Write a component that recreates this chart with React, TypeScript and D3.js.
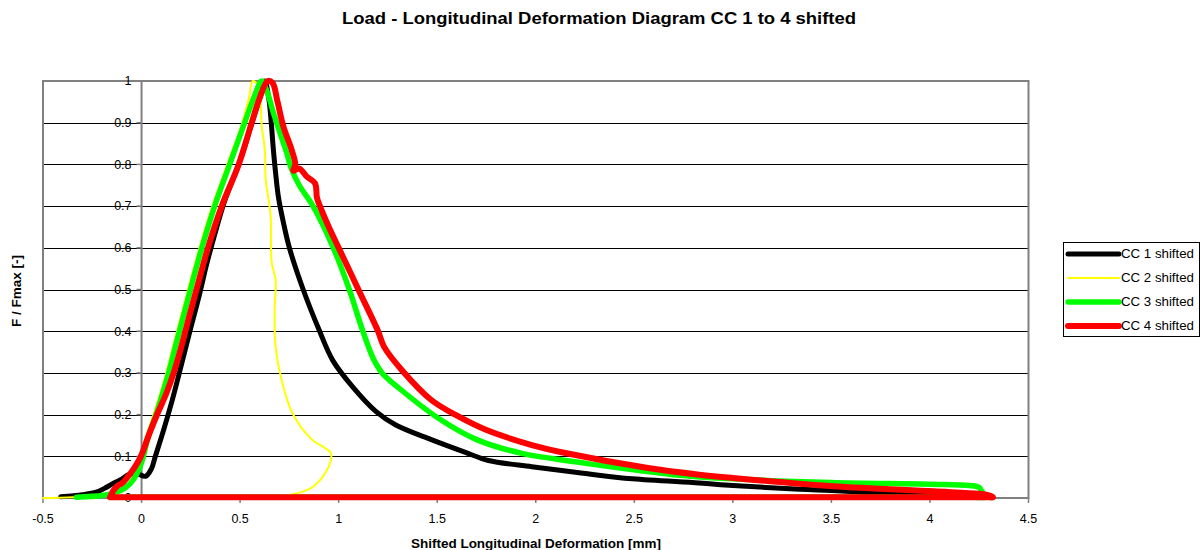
import { useMemo } from "react";
import { scaleLinear, line, curveCatmullRom } from "d3";

const WIDTH = 1202;
const HEIGHT = 550;
const PLOT = { left: 43, right: 1028.5, top: 81, bottom: 498 };
const FONT = "Arial, 'Liberation Sans', sans-serif";

const TITLE = "Load - Longitudinal Deformation Diagram CC 1 to 4 shifted";
const X_LABEL = "Shifted Longitudinal Deformation [mm]";
const Y_LABEL = "F / Fmax [-]";

const xTicks = [-0.5, 0, 0.5, 1, 1.5, 2, 2.5, 3, 3.5, 4, 4.5];
const yTicks = [0, 0.1, 0.2, 0.3, 0.4, 0.5, 0.6, 0.7, 0.8, 0.9, 1];

// [deformation mm, F/Fmax]; each loop ends with the unloading run back along zero
const cc1: [number, number][] = [
  [-0.41, 0.003], [-0.3, 0.008], [-0.23, 0.014], [-0.18, 0.025], [-0.14, 0.036], [-0.1, 0.045],
  [-0.07, 0.055], [-0.03, 0.06], [0.02, 0.052], [0.05, 0.07], [0.07, 0.1], [0.11, 0.16],
  [0.15, 0.225], [0.183, 0.284], [0.24, 0.39], [0.295, 0.49], [0.33, 0.56], [0.37, 0.63],
  [0.42, 0.71], [0.5, 0.81], [0.56, 0.9], [0.6, 0.96], [0.625, 1.0], [0.645, 0.96],
  [0.658, 0.9], [0.668, 0.84], [0.68, 0.78], [0.695, 0.72], [0.72, 0.66], [0.75, 0.6],
  [0.82, 0.5], [0.9, 0.404], [0.97, 0.33], [1.07, 0.267], [1.19, 0.207], [1.29, 0.175],
  [1.47, 0.14], [1.64, 0.11], [1.76, 0.09], [1.98, 0.075], [2.23, 0.06], [2.49, 0.046],
  [2.83, 0.036], [3.0, 0.03], [3.34, 0.021], [3.5, 0.018], [3.85, 0.01], [4.1, 0.006],
  [4.25, 0.003], [4.28, 0.002], [4.22, 0.002], [0.05, 0.002], [0.0, 0.002]
];

const cc2: [number, number][] = [
  [-0.5, 0.0], [-0.35, 0.002], [-0.21, 0.006], [-0.15, 0.012], [-0.09, 0.025], [-0.05, 0.045],
  [-0.012, 0.085], [0.018, 0.14], [0.068, 0.21], [0.116, 0.284], [0.158, 0.36], [0.208, 0.45],
  [0.253, 0.53], [0.294, 0.6], [0.359, 0.7], [0.435, 0.8], [0.511, 0.9], [0.545, 0.96],
  [0.565, 1.0], [0.59, 0.99], [0.6, 0.973], [0.61, 0.89], [0.625, 0.837], [0.63, 0.765],
  [0.655, 0.675], [0.66, 0.565], [0.68, 0.524], [0.675, 0.445], [0.68, 0.363], [0.71, 0.284],
  [0.765, 0.204], [0.865, 0.14], [0.93, 0.12], [0.96, 0.108], [0.95, 0.075], [0.87, 0.027],
  [0.75, 0.007], [0.61, 0.004], [0.58, 0.004]
];

const cc3: [number, number][] = [
  [-0.33, 0.002], [-0.2, 0.006], [-0.14, 0.012], [-0.08, 0.025], [-0.04, 0.045], [0.0, 0.085],
  [0.03, 0.14], [0.08, 0.21], [0.128, 0.284], [0.17, 0.36], [0.22, 0.45], [0.265, 0.53],
  [0.306, 0.6], [0.371, 0.7], [0.447, 0.8], [0.523, 0.9], [0.57, 0.96], [0.61, 1.0],
  [0.64, 0.97], [0.665, 0.93], [0.685, 0.9], [0.735, 0.83], [0.76, 0.79], [0.8, 0.75],
  [0.87, 0.7], [0.973, 0.6], [1.054, 0.5], [1.12, 0.404], [1.175, 0.335], [1.22, 0.3],
  [1.31, 0.262], [1.51, 0.19], [1.7, 0.14], [1.93, 0.107], [2.2, 0.087], [2.41, 0.073],
  [2.7, 0.056], [3.0, 0.046], [3.5, 0.037], [4.0, 0.033], [4.2, 0.03], [4.25, 0.025],
  [4.27, 0.01], [4.28, 0.002], [4.22, 0.002], [-0.05, 0.002], [-0.1, 0.002]
];

const cc4: [number, number][] = [
  [-0.16, 0.002], [-0.14, 0.02], [-0.12, 0.03], [-0.1, 0.035], [-0.075, 0.048], [-0.04, 0.07],
  [-0.005, 0.098], [0.04, 0.155], [0.083, 0.205], [0.125, 0.25], [0.163, 0.3], [0.2, 0.36],
  [0.25, 0.45], [0.296, 0.53], [0.337, 0.6], [0.407, 0.7], [0.493, 0.8], [0.559, 0.9],
  [0.6, 0.96], [0.64, 1.0], [0.665, 0.995], [0.69, 0.95], [0.72, 0.89], [0.76, 0.837],
  [0.78, 0.8], [0.77, 0.785], [0.8, 0.79], [0.84, 0.77], [0.88, 0.755], [0.89, 0.72],
  [0.905, 0.7], [0.95, 0.65], [1.0, 0.6], [1.1, 0.5], [1.2, 0.4], [1.23, 0.363],
  [1.32, 0.307], [1.47, 0.235], [1.61, 0.195], [1.75, 0.163], [1.98, 0.127], [2.15, 0.108],
  [2.57, 0.072], [2.83, 0.056], [3.0, 0.048], [3.51, 0.028], [4.02, 0.016], [4.25, 0.01],
  [4.3, 0.006], [4.32, 0.002], [4.26, 0.002], [-0.1, 0.002], [-0.15, 0.002]
];

const seriesNames = ["CC 1 shifted", "CC 2 shifted", "CC 3 shifted", "CC 4 shifted"];
const seriesColors = ["#000000", "#ffff00", "#00ff00", "#ff0000"];
const seriesWidths = [5, 2, 5.5, 6];
const seriesData = [cc1, cc2, cc3, cc4];

export default function App() {
  const x = useMemo(() => scaleLinear().domain([-0.5, 4.5]).range([PLOT.left, PLOT.right]), []);
  const y = useMemo(() => scaleLinear().domain([0, 1]).range([PLOT.bottom, PLOT.top]), []);
  const path = line<[number, number]>()
    .x((d) => x(d[0]))
    .y((d) => y(d[1]))
    .curve(curveCatmullRom.alpha(0.5));

  const legend = { left: 1063.5, top: 242.5, width: 136, height: 94 };

  return (
    <svg
      width={WIDTH}
      height={HEIGHT}
      style={{ position: "absolute", left: 0, top: 0, background: "#fff" }}
      fontFamily={FONT}
    >
      <text
        x={599}
        y={24}
        textAnchor="middle"
        fontSize={16}
        fontWeight="bold"
        textLength={514}
        lengthAdjust="spacingAndGlyphs"
      >
        {TITLE}
      </text>

      {yTicks.slice(1).map((t) => (
        <line
          key={t}
          x1={PLOT.left}
          x2={PLOT.right}
          y1={Math.round(y(t)) + 0.5}
          y2={Math.round(y(t)) + 0.5}
          stroke="#000"
          strokeWidth={1}
        />
      ))}

      <rect
        x={PLOT.left}
        y={PLOT.top}
        width={PLOT.right - PLOT.left}
        height={PLOT.bottom - PLOT.top}
        fill="none"
        stroke="#808080"
        strokeWidth={2}
      />

      {/* value axis crossing at x = 0 */}
      <line x1={x(0)} x2={x(0)} y1={PLOT.top} y2={PLOT.bottom} stroke="#808080" strokeWidth={2} />
      {yTicks.map((t) => (
        <g key={t}>
          <line x1={x(0) - 5} x2={x(0)} y1={y(t)} y2={y(t)} stroke="#808080" strokeWidth={1.5} />
          <text x={x(0) - 10} y={y(t)} dy="0.35em" textAnchor="end" fontSize={12.5}>
            {String(t)}
          </text>
        </g>
      ))}

      <line x1={PLOT.left} x2={PLOT.right} y1={PLOT.bottom} y2={PLOT.bottom} stroke="#808080" strokeWidth={2} />
      {xTicks.map((t) => (
        <g key={t}>
          <line x1={x(t)} x2={x(t)} y1={PLOT.bottom} y2={PLOT.bottom + 5} stroke="#808080" strokeWidth={1.5} />
          <text x={x(t)} y={523} textAnchor="middle" fontSize={12.5}>
            {String(t)}
          </text>
        </g>
      ))}

      {seriesData.map((data, i) => (
        <path
          key={seriesNames[i]}
          d={path(data) ?? ""}
          fill="none"
          stroke={seriesColors[i]}
          strokeWidth={seriesWidths[i]}
          strokeLinejoin="round"
          strokeLinecap="round"
        />
      ))}

      <text
        x={536}
        y={548}
        textAnchor="middle"
        fontSize={12.5}
        fontWeight="bold"
        textLength={250}
        lengthAdjust="spacingAndGlyphs"
      >
        {X_LABEL}
      </text>
      <text
        transform={`translate(21, 291) rotate(-90)`}
        textAnchor="middle"
        fontSize={12.5}
        fontWeight="bold"
        textLength={72}
        lengthAdjust="spacingAndGlyphs"
      >
        {Y_LABEL}
      </text>

      <rect
        x={legend.left}
        y={legend.top}
        width={legend.width}
        height={legend.height}
        fill="#fff"
        stroke="#000"
        strokeWidth={1}
      />
      {seriesNames.map((name, i) => {
        const ly = 254 + i * 24;
        return (
          <g key={name}>
            <line
              x1={1068}
              x2={1119}
              y1={ly}
              y2={ly}
              stroke={seriesColors[i]}
              strokeWidth={seriesWidths[i]}
              strokeLinecap="round"
            />
            <text x={1121} y={ly} dy="0.35em" fontSize={12.5} textLength={73} lengthAdjust="spacingAndGlyphs">
              {name}
            </text>
          </g>
        );
      })}
    </svg>
  );
}
